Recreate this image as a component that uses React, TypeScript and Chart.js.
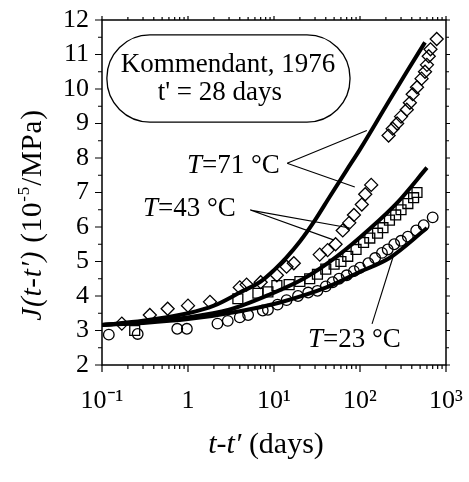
import React, { useEffect, useRef } from 'react';
import { Chart, registerables } from 'chart.js';

Chart.register(...registerables);

// ---- data ----
// 71 °C : diamonds
const diamondT = [0.17, 0.36, 0.58, 1.0, 1.8, 4.0, 4.8, 7.0, 10.8, 14, 17, 34, 42, 52, 63, 75, 85, 105, 115, 135, 215, 240, 270, 300, 350, 380, 410, 460, 520, 570, 600, 630, 660, 780];
const diamondJ = [3.2, 3.45, 3.63, 3.72, 3.83, 4.25, 4.33, 4.4, 4.6, 4.85, 4.95, 5.2, 5.33, 5.5, 5.9, 6.12, 6.35, 6.65, 6.95, 7.22, 8.65, 8.85, 9.0, 9.2, 9.4, 9.6, 9.85, 10.05, 10.3, 10.5, 10.7, 10.95, 11.15, 11.45];
// 43 °C : squares
const squareT = [0.24, 3.8, 6.5, 8.5, 10.8, 15, 20, 26, 32, 40, 50, 60, 72, 90, 110, 130, 160, 185, 220, 260, 300, 360, 420, 460];
const squareJ = [3.0, 3.92, 4.08, 4.12, 4.3, 4.33, 4.42, 4.5, 4.63, 4.78, 4.92, 5.0, 5.15, 5.35, 5.55, 5.68, 5.82, 5.98, 6.2, 6.35, 6.5, 6.68, 6.85, 7.0];
// 23 °C : circles
const circleT = [0.12, 0.26, 0.75, 0.97, 2.2, 2.9, 4.0, 5.0, 7.4, 8.5, 11, 14, 19, 25, 32, 40, 48, 57, 70, 85, 100, 125, 150, 180, 210, 250, 300, 360, 450, 550, 700];
const circleJ = [2.88, 2.9, 3.05, 3.05, 3.2, 3.28, 3.38, 3.45, 3.58, 3.6, 3.75, 3.88, 4.0, 4.1, 4.15, 4.28, 4.4, 4.5, 4.6, 4.72, 4.82, 4.95, 5.1, 5.25, 5.35, 5.5, 5.6, 5.72, 5.9, 6.05, 6.28];

// model curves
const line71T = [0.1, 0.3, 1, 2, 4, 7, 10, 14, 20, 30, 45, 70, 100, 200, 350, 570];
const line71J = [3.16, 3.28, 3.5, 3.72, 4.1, 4.42, 4.75, 5.12, 5.58, 6.2, 6.9, 7.65, 8.25, 9.5, 10.5, 11.35];
const line43T = [0.1, 0.3, 1, 3, 9, 22, 54, 130, 270, 600];
const line43J = [3.16, 3.25, 3.38, 3.6, 4.05, 4.5, 5.15, 5.95, 6.7, 7.72];
const line23T = [0.1, 0.3, 1, 4, 12, 40, 100, 220, 600];
const line23J = [3.16, 3.22, 3.33, 3.56, 3.82, 4.24, 4.7, 5.1, 5.97];

// ticks
const xMajorTicks = [0.1, 1, 10, 100, 1000];
const xTickLabels = ['10⁻¹', '1', '10¹', '10²', '10³'];
const xMinorMult = [2, 3, 4, 5, 6, 7, 8, 9];
const yTicks = [2, 3, 4, 5, 6, 7, 8, 9, 10, 11, 12];

const FONT = '"Liberation Serif", "Times New Roman", serif';

const zip = (a: number[], b: number[]) => a.map((v, i) => ({ x: v, y: b[i] }));

const xAllTicks: number[] = [];
xMajorTicks.forEach((m, i) => {
  xAllTicks.push(m);
  if (i < xMajorTicks.length - 1) xMinorMult.forEach((k) => xAllTicks.push(m * k));
});

type Part = { text: string; italic?: boolean; sup?: boolean };

function drawRich(ctx: CanvasRenderingContext2D, parts: Part[], x: number, y: number, size: number, align: 'left' | 'center') {
  const fontOf = (p: Part) => `${p.italic ? 'italic ' : ''}${p.sup ? Math.round(size * 0.6) : size}px ${FONT}`;
  let total = 0;
  parts.forEach((p) => { ctx.font = fontOf(p); total += ctx.measureText(p.text).width; });
  let cx = align === 'center' ? x - total / 2 : x;
  ctx.textAlign = 'left';
  ctx.textBaseline = 'alphabetic';
  parts.forEach((p) => {
    ctx.font = fontOf(p);
    ctx.fillText(p.text, cx, p.sup ? y - size * 0.42 : y);
    cx += ctx.measureText(p.text).width;
  });
}

const framePlugin = {
  id: 'frameTicks',
  afterDraw(chart: any) {
    const { ctx, chartArea: a, scales } = chart;
    const x = scales.x, y = scales.y;
    ctx.save();
    ctx.strokeStyle = '#000';
    ctx.lineWidth = 1.5;
    ctx.strokeRect(a.left, a.top, a.right - a.left, a.bottom - a.top);
    ctx.lineWidth = 1.2;
    ctx.beginPath();
    xAllTicks.forEach((v) => {
      const px = x.getPixelForValue(v);
      const major = xMajorTicks.includes(v);
      const L = major ? 7 : 4;
      ctx.moveTo(px, a.bottom); ctx.lineTo(px, a.bottom + L);
      ctx.moveTo(px, a.top); ctx.lineTo(px, a.top - (major ? 4 : 3));
    });
    for (let v = yTicks[0]; v <= yTicks[yTicks.length - 1] + 1e-9; v += 0.5) {
      const py = y.getPixelForValue(v);
      const major = Math.abs(v - Math.round(v)) < 1e-6;
      const L = major ? 7 : 4;
      ctx.moveTo(a.left - L, py); ctx.lineTo(a.left, py);
      ctx.moveTo(a.right, py); ctx.lineTo(a.right + (major ? 4 : 3), py);
    }
    ctx.stroke();

    // axis titles
    ctx.fillStyle = '#000';
    drawRich(ctx, [{ text: 't-t′', italic: true }, { text: ' (days)' }], 266, 453, 30, 'center');
    ctx.translate(41, 215);
    ctx.rotate(-Math.PI / 2);
    (ctx as any).letterSpacing = '0.8px';
    drawRich(ctx, [{ text: 'J(t-t′)', italic: true }, { text: ' (10' }, { text: '-5', sup: true }, { text: '/MPa)' }], 0, 0, 29, 'center');
    (ctx as any).letterSpacing = '0px';
    ctx.restore();
  },
};

// annotation anchors in data coordinates [t, J]
const boxTL = [0.114, 11.57];
const boxBR = [76.5, 9.04];
const noteLine1 = [2.92, 10.49];
const noteLine2 = [2.35, 9.68];
const lab71 = [0.974, 7.565];
const lab71From = [14.2, 7.85];
const lab71To = [[120, 8.8], [87, 7.16]];
const lab43 = [0.3, 6.32];
const lab43From = [5.3, 6.49];
const lab43To = [[76, 5.97], [50, 5.62]];
const lab23 = [24.8, 2.52];
const lab23From = [138, 3.19];
const lab23To = [[242, 5.13]];

const annotPlugin = {
  id: 'annot',
  afterDatasetsDraw(chart: any) {
    const { ctx, scales } = chart;
    const P = (p: number[]) => [scales.x.getPixelForValue(p[0]), scales.y.getPixelForValue(p[1])];
    ctx.save();
    ctx.strokeStyle = '#000';
    ctx.fillStyle = '#000';
    // rounded box
    const [bx0, by0] = P(boxTL);
    const [bx1, by1] = P(boxBR);
    ctx.lineWidth = 1.3;
    ctx.beginPath();
    (ctx as any).roundRect(bx0, by0, bx1 - bx0, by1 - by0, 43);
    ctx.fillStyle = '#fff';
    ctx.fill();
    ctx.stroke();
    ctx.fillStyle = '#000';
    const [n1x, n1y] = P(noteLine1);
    const [n2x, n2y] = P(noteLine2);
    drawRich(ctx, [{ text: 'Kommendant, 1976' }], n1x, n1y, 27, 'center');
    drawRich(ctx, [{ text: "t' = 28 days" }], n2x, n2y, 27, 'center');

    const leader = (from: number[], tos: number[][]) => {
      const [fx, fy] = P(from);
      ctx.lineWidth = 1.1;
      ctx.beginPath();
      tos.forEach((t) => { const [tx, ty] = P(t); ctx.moveTo(fx, fy); ctx.lineTo(tx, ty); });
      ctx.stroke();
    };
    const label = (pos: number[], txt: string) => {
      const [lx, ly] = P(pos);
      drawRich(ctx, [{ text: 'T', italic: true }, { text: txt }], lx, ly, 27, 'left');
    };
    label(lab71, '=71 °C');
    leader(lab71From, lab71To);
    label(lab43, '=43 °C');
    leader(lab43From, lab43To);
    label(lab23, '=23 °C');
    leader(lab23From, lab23To);
    ctx.restore();
  },
};

export default function App() {
  const ref = useRef<HTMLCanvasElement>(null);
  useEffect(() => {
    document.body.style.margin = '0';
    const canvas = ref.current!;
    const lineDs = (t: number[], j: number[]) => ({
      data: zip(t, j),
      showLine: true,
      borderColor: '#000',
      borderWidth: 4,
      pointRadius: 0,
      tension: 0.4,
      cubicInterpolationMode: 'monotone',
      order: 0,
    });
    const markDs = (t: number[], j: number[], style: string, r: number) => ({
      data: zip(t, j),
      showLine: false,
      pointStyle: style,
      pointRadius: r,
      pointBorderWidth: 1.3,
      pointBorderColor: '#000',
      pointBackgroundColor: 'rgba(255,255,255,0)',
      order: 1,
    });
    const chart = new Chart(canvas, {
      type: 'scatter',
      data: {
        datasets: [
          lineDs(line71T, line71J),
          lineDs(line43T, line43J),
          lineDs(line23T, line23J),
          markDs(diamondT, diamondJ, 'rectRot', 6.5),
          markDs(squareT, squareJ, 'rect', 7),
          markDs(circleT, circleJ, 'circle', 5.3),
        ] as any,
      },
      options: {
        animation: false,
        responsive: false,
        devicePixelRatio: 1,
        layout: { padding: { top: 20, right: 23, left: 0, bottom: 0 } },
        plugins: { legend: { display: false }, tooltip: { enabled: false } },
        scales: {
          x: {
            type: 'logarithmic',
            min: 0.1,
            max: 1000,
            grid: { display: false, drawTicks: false },
            border: { display: false },
            afterBuildTicks: (s: any) => { s.ticks = xAllTicks.map((v) => ({ value: v })); },
            afterFit: (s: any) => { s.height = 117; s.paddingLeft = 0; s.paddingRight = 0; },
            ticks: {
              autoSkip: false,
              maxRotation: 0,
              color: '#000',
              padding: 21,
              font: { family: FONT, size: 26 },
              callback: (v: any) => {
                const i = xMajorTicks.findIndex((m) => Math.abs(m - Number(v)) < 1e-9 * Math.max(1, m));
                return i >= 0 ? xTickLabels[i] : '';
              },
            },
          },
          y: {
            type: 'linear',
            min: 2,
            max: 12,
            grid: { display: false, drawTicks: false },
            border: { display: false },
            afterBuildTicks: (s: any) => { s.ticks = yTicks.map((v) => ({ value: v })); },
            afterFit: (s: any) => { s.width = 102; s.paddingTop = 0; s.paddingBottom = 0; },
            ticks: {
              color: '#000',
              padding: 13,
              font: { family: FONT, size: 26 },
            },
          },
        },
      } as any,
      plugins: [annotPlugin, framePlugin],
    });
    return () => chart.destroy();
  }, []);
  return (
    <div style={{ width: 469, height: 482 }}>
      <canvas ref={ref} width={469} height={482} style={{ display: 'block', width: 469, height: 482 }} />
    </div>
  );
}
